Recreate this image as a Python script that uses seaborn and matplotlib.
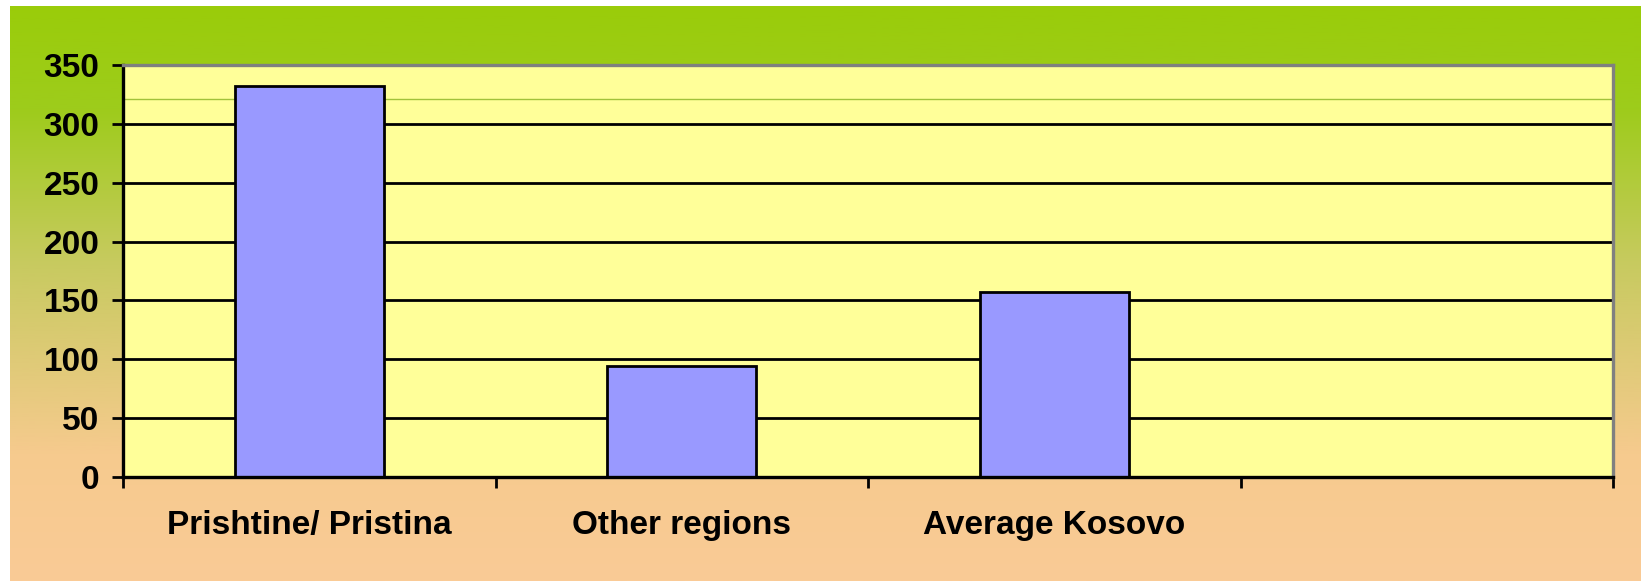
import numpy as np
import pandas as pd
import matplotlib
matplotlib.use("Agg")
import matplotlib.pyplot as plt
from matplotlib.colors import LinearSegmentedColormap
import seaborn as sns

################ DATA ################
regions = ["Prishtine/ Pristina", "Other regions", "Average Kosovo"]
values = [332, 94, 157]
y_ticks = [0, 50, 100, 150, 200, 250, 300, 350]
ref_line = 321  # thin green line across the plot area

df = pd.DataFrame({"region": regions, "value": values})

################ STYLE ################
sns.set_theme(style="white")
plt.rcParams["font.family"] = ["Liberation Sans", "DejaVu Sans"]
plt.rcParams["font.weight"] = "bold"
plt.rcParams["text.color"] = "black"
plt.rcParams["xtick.color"] = "black"
plt.rcParams["ytick.color"] = "black"

W, H = 1641, 581
fig = plt.figure(figsize=(W / 100, H / 100), dpi=100)
fig.patch.set_facecolor("white")

# gradient background (green top -> peach bottom)
bg = fig.add_axes([10 / W, 0, 1 - 10 / W, 1 - 6 / H])
grad_cmap = LinearSegmentedColormap.from_list(
    "bg",
    [(0.0, "#9ACC0A"), (0.18, "#9ECC1C"), (0.45, "#C8CA60"),
     (0.78, "#F6CA8E"), (1.0, "#FACB96")],
)
grad = np.linspace(0, 1, 256).reshape(-1, 1)
bg.imshow(grad, aspect="auto", cmap=grad_cmap, extent=[0, 1, 0, 1], origin="upper")
bg.set_axis_off()
bg.set_zorder(-1)

################ MAIN PLOT ################
left, right = 123 / W, 1613 / W
bottom, top = 1 - 477 / H, 1 - 65 / H
ax = fig.add_axes([left, bottom, right - left, top - bottom])
ax.set_facecolor("#FFFF99")

sns.barplot(data=df, x="region", y="value", color="#9999FF", width=0.4,
            edgecolor="black", linewidth=2.0, saturation=1, ax=ax, zorder=3)

ax.set_xlim(-0.5, 3.5)
ax.set_ylim(0, 350)

# gridlines
for v in y_ticks[1:-1]:
    ax.axhline(v, color="black", lw=2.0, zorder=1)
ax.axhline(ref_line, color="#A2C23A", lw=1.0, zorder=1)

# y axis
ax.set_yticks(y_ticks)
ax.set_yticklabels([str(v) for v in y_ticks], fontsize=24, fontweight="bold",
                   color="black")
ax.tick_params(axis="y", direction="out", length=8, width=2, color="black",
               pad=9, left=True)

# x axis: ticks on slot borders, labels at centres
ax.set_xticks([-0.5, 0.5, 1.5, 2.5, 3.5])
ax.set_xticklabels([])
ax.set_xticks(range(len(regions)), minor=True)
ax.set_xticklabels(regions, minor=True, fontsize=24, fontweight="bold",
                   color="black")
ax.tick_params(axis="x", which="major", direction="out", length=8, width=2,
               color="black", bottom=True)
ax.tick_params(axis="x", which="minor", length=0, pad=24)

ax.set_xlabel("")
ax.set_ylabel("")

for s in ["left", "bottom"]:
    ax.spines[s].set_color("black")
    ax.spines[s].set_linewidth(2.4)
for s in ["top", "right"]:
    ax.spines[s].set_color("#808080")
    ax.spines[s].set_linewidth(2.4)
for s in ax.spines.values():
    s.set_zorder(4)

fig.savefig("out.png", dpi=100)
